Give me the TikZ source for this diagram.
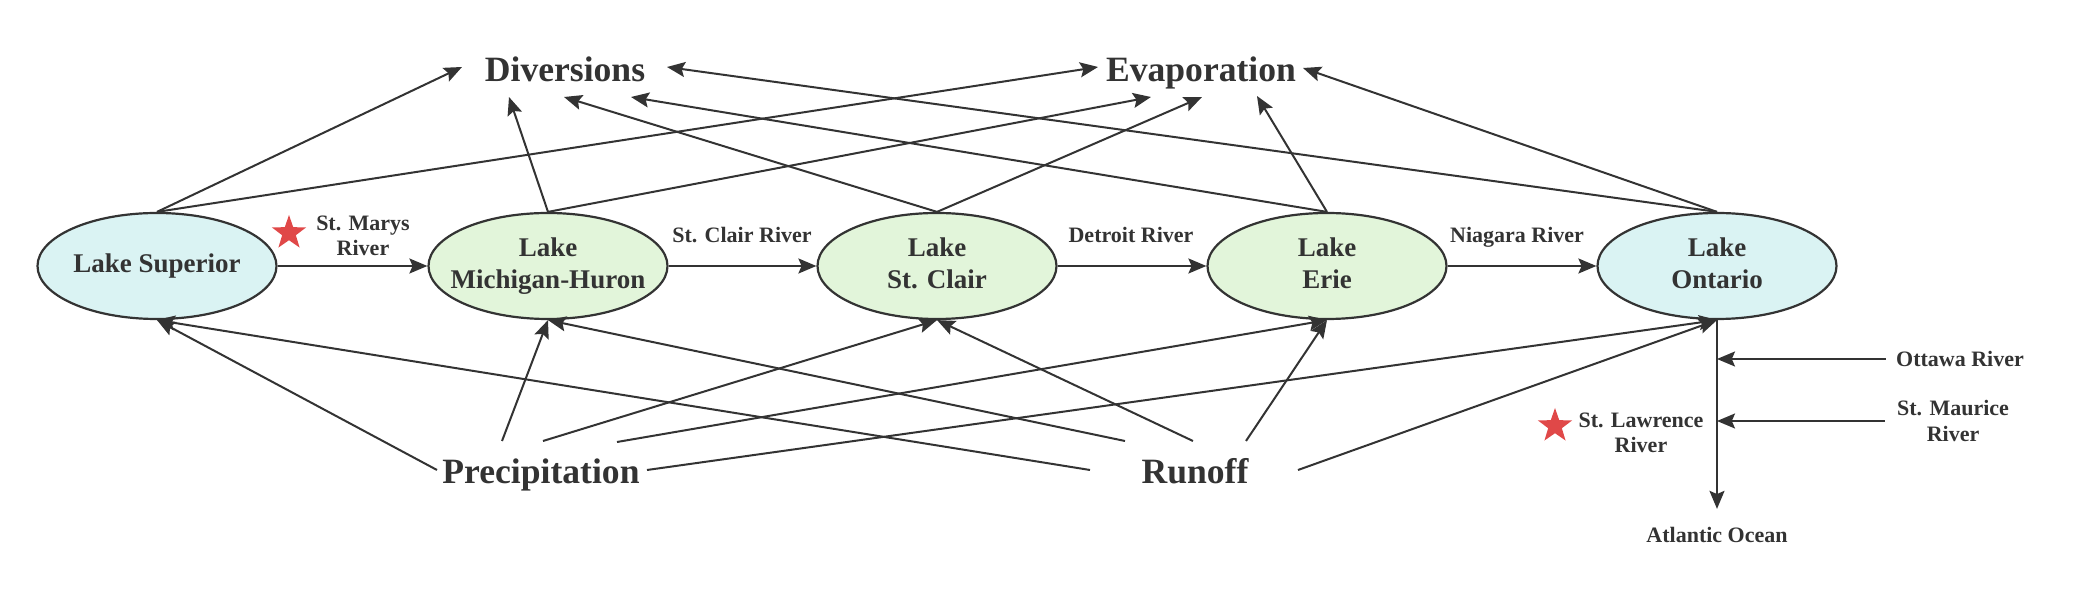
\documentclass[tikz,border=0pt]{standalone}
\usepackage{fontspec}
\setmainfont{Liberation Serif}
\usetikzlibrary{arrows.meta,shapes.geometric}
\definecolor{ink}{HTML}{333333}
\definecolor{lakecyan}{HTML}{DAF3F3}
\definecolor{lakegreen}{HTML}{E2F5DA}
\definecolor{starred}{HTML}{E04848}
\newcommand\lakelabel[1]{\makebox[0pt]{\begin{tabular}{@{}c@{}}#1\end{tabular}}}
\begin{document}
\begin{tikzpicture}[x=0.5pt,y=-0.5pt,
  lake/.style={ellipse, draw=ink, line width=1.1pt, minimum width=119.5pt, minimum height=53pt, inner sep=0pt, text=ink, font=\fontsize{13.5}{16}\selectfont\bfseries},
  cyanlake/.style={lake, fill=lakecyan},
  greenlake/.style={lake, fill=lakegreen},
  biglabel/.style={text=ink, font=\fontsize{17.8}{20}\selectfont\bfseries, inner sep=0pt, anchor=base},
  smalllabel/.style={text=ink, font=\fontsize{11}{12.6}\selectfont\bfseries, align=center, inner sep=3pt},
  flow/.style={draw=ink, line width=1pt, -{Stealth[length=9pt,width=7.5pt,inset=1.6pt]}},
  redstar/.style={star, star points=5, star point ratio=2.5, fill=starred, draw=none, minimum size=18pt, inner sep=0pt},
]
\useasboundingbox (0,0) rectangle (2079,598);

% lakes
\node[cyanlake] (sup) at (157,266) {\lakelabel{Lake Superior}};
\node[greenlake] (mh) at (548,266) {\lakelabel{Lake\\Michigan-Huron}};
\node[greenlake] (stc) at (937,266) {\lakelabel{Lake\\St. Clair}};
\node[greenlake] (erie) at (1327,266) {\lakelabel{Lake\\Erie}};
\node[cyanlake] (ont) at (1717,266) {\lakelabel{Lake\\Ontario}};

% big labels
\node[biglabel] (div) at (565,82) {Diversions};
\node[biglabel] (evap) at (1201,82) {Evaporation};
\node[biglabel] (prec) at (541,484) {Precipitation};
\node[biglabel] (run) at (1195,484) {Runoff};

% river labels
\node[smalllabel] (smr) at (363,235.5) {St. Marys\\River};
\node[redstar] (star1) at (289,233) {};
\node[smalllabel] (scr) at (742,235) {St. Clair River};
\node[smalllabel] (dr) at (1131,235) {Detroit River};
\node[smalllabel] (nr) at (1517,237) {Niagara River};
\node[smalllabel] (ottawa) at (1960,359) {Ottawa River};
\node[smalllabel] (maurice) at (1953,421) {St. Maurice\\River};
\node[smalllabel] (lawr) at (1641,433) {St. Lawrence\\River};
\node[redstar] (star2) at (1555,426) {};
\node[smalllabel] (atl) at (1717,535) {Atlantic Ocean};

% connecting rivers
\draw[flow] (sup.east) -- (mh.west);
\draw[flow] (mh.east) -- (stc.west);
\draw[flow] (stc.east) -- (erie.west);
\draw[flow] (erie.east) -- (ont.west);
\draw[flow] (ont.south) -- ([yshift=6pt]atl.north);
\draw[flow] ([xshift=-2pt]ottawa.west) -- (ottawa.west -| ont.south);
\draw[flow] ([xshift=-3pt]maurice.west) -- (maurice.west -| ont.south);

% to diversions
\draw[flow] (sup.north) -- ([shift={(-103,-15)}]div.base);
\draw[flow] (mh.north) -- ([shift={(-56,15)}]div.base);
\draw[flow] (stc.north) -- ([shift={(-1,15)}]div.base);
\draw[flow] (erie.north) -- ([shift={(66,15)}]div.base);
\draw[flow] (ont.north) -- ([shift={(102,-15)}]div.base);

% to evaporation
\draw[flow] (sup.north) -- ([shift={(-103,-15)}]evap.base);
\draw[flow] (mh.north) -- ([shift={(-50,15)}]evap.base);
\draw[flow] (stc.north) -- ([shift={(1,15)}]evap.base);
\draw[flow] (erie.north) -- ([shift={(56,14)}]evap.base);
\draw[flow] (ont.north) -- ([shift={(102,-14)}]evap.base);

% from precipitation
\draw[flow] ([shift={(-104,-14)}]prec.base) -- (sup.south);
\draw[flow] ([shift={(-39,-43)}]prec.base) -- (mh.south);
\draw[flow] ([shift={(2,-43)}]prec.base) -- (stc.south);
\draw[flow] ([shift={(76,-42)}]prec.base) -- (erie.south);
\draw[flow] ([shift={(106,-14)}]prec.base) -- (ont.south);

% from runoff
\draw[flow] ([shift={(-105,-14)}]run.base) -- (sup.south);
\draw[flow] ([shift={(-70,-43)}]run.base) -- (mh.south);
\draw[flow] ([shift={(-2,-43)}]run.base) -- (stc.south);
\draw[flow] ([shift={(51,-43)}]run.base) -- (erie.south);
\draw[flow] ([shift={(103,-14)}]run.base) -- (ont.south);
\end{tikzpicture}
\end{document}
